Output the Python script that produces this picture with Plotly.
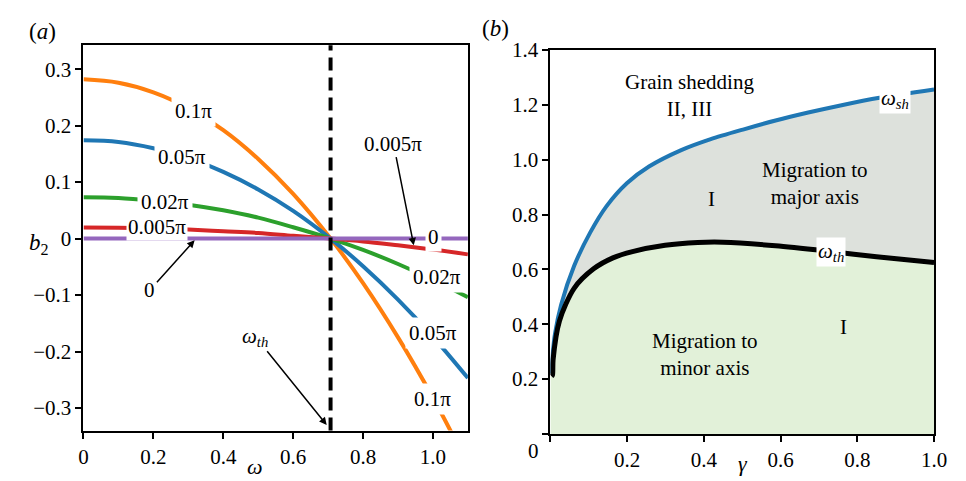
import plotly.graph_objects as go

# ---------------- Panel (a) data ----------------
omega = [0, 0.1, 0.2, 0.3, 0.4, 0.5, 0.6, 0.707, 0.8, 0.9, 1.0, 1.1]
b2_01pi = [0.282, 0.276, 0.259, 0.231, 0.192, 0.141, 0.079, 0, -0.079, -0.175, -0.282, -0.400]
b2_005pi = [0.174, 0.171, 0.160, 0.143, 0.118, 0.087, 0.049, 0, -0.049, -0.108, -0.174, -0.247]
b2_002pi = [0.073, 0.072, 0.067, 0.060, 0.050, 0.037, 0.020, 0, -0.020, -0.045, -0.073, -0.104]
b2_0005pi = [0.0195, 0.019, 0.018, 0.016, 0.013, 0.010, 0.005, 0, -0.005, -0.012, -0.0195, -0.028]
b2_0 = [0, 0, 0, 0, 0, 0, 0, 0, 0, 0, 0, 0]
omega_th = 0.707

a_xticks = [0, 0.2, 0.4, 0.6, 0.8, 1.0]
a_xticktext = ["0", "0.2", "0.4", "0.6", "0.8", "1.0"]
a_yticks = [0.3, 0.2, 0.1, 0, -0.1, -0.2, -0.3]
a_yticktext = ["0.3", "0.2", "0.1", "0", "\u22120.1", "\u22120.2", "\u22120.3"]

# ---------------- Panel (b) data ----------------
gamma_sh = [0.003, 0.006, 0.012, 0.028, 0.062, 0.104, 0.146, 0.2, 0.257, 0.341, 0.418,
            0.502, 0.587, 0.672, 0.756, 0.858, 1.0]
omega_sh = [0.22, 0.29, 0.365, 0.471, 0.613, 0.735, 0.83, 0.915, 0.975, 1.035, 1.075,
            1.11, 1.143, 1.172, 1.198, 1.226, 1.256]
gamma_thr = [0.0, 0.003, 0.0055, 0.007, 0.0236, 0.0618, 0.1126, 0.163, 0.214, 0.299, 0.384,
             0.45, 0.587, 0.731, 0.85, 1.0]
omega_thr = [0.21, 0.21, 0.215, 0.27, 0.412, 0.531, 0.602, 0.642, 0.665, 0.688, 0.698,
             0.699, 0.686, 0.665, 0.646, 0.625]

b_xticks = [0, 0.2, 0.4, 0.6, 0.8, 1.0]
b_xticktext = ["", "0.2", "0.4", "0.6", "0.8", "1.0"]
b_yticks = [0, 0.2, 0.4, 0.6, 0.8, 1.0, 1.2, 1.4]
b_yticktext = ["", "0.2", "0.4", "0.6", "0.8", "1.0", "1.2", "1.4"]

FONT = "Liberation Serif, Times New Roman, serif"
FS = 21
ORANGE, BLUE, GREEN, RED, PURPLE = "#ff7f0e", "#1f77b4", "#2ca02c", "#d62728", "#9467bd"
FILL_GREEN = "#e2f1d9"
FILL_GRAY = "#dde1dc"

fig = go.Figure()

# Panel (a) curves
for yv, col in [(b2_01pi, ORANGE), (b2_005pi, BLUE), (b2_002pi, GREEN), (b2_0005pi, RED), (b2_0, PURPLE)]:
    fig.add_trace(go.Scatter(x=omega, y=yv, mode="lines", line=dict(color=col, width=4, shape="spline"),
                             xaxis="x", yaxis="y", showlegend=False, hoverinfo="skip"))

fig.add_shape(type="line", x0=omega_th, x1=omega_th, y0=0, y1=1, xref="x", yref="y domain",
              line=dict(color="black", width=4, dash="13px,7px"))

# Panel (b) fills
fig.add_trace(go.Scatter(x=gamma_thr, y=omega_thr, mode="lines", line=dict(width=0, shape="spline", smoothing=0.8),
                         fill="tozeroy", fillcolor=FILL_GREEN, xaxis="x2", yaxis="y2",
                         showlegend=False, hoverinfo="skip"))
fig.add_trace(go.Scatter(x=gamma_thr[1:], y=omega_thr[1:], mode="lines", line=dict(width=0, shape="spline", smoothing=0.8),
                         xaxis="x2", yaxis="y2", showlegend=False, hoverinfo="skip"))
fig.add_trace(go.Scatter(x=gamma_sh, y=omega_sh, mode="lines", line=dict(width=0, shape="spline", smoothing=0.8),
                         fill="tonexty", fillcolor=FILL_GRAY, xaxis="x2", yaxis="y2",
                         showlegend=False, hoverinfo="skip"))
# Panel (b) lines
fig.add_trace(go.Scatter(x=gamma_sh, y=omega_sh, mode="lines",
                         line=dict(color=BLUE, width=4, shape="spline", smoothing=0.8),
                         xaxis="x2", yaxis="y2", showlegend=False, hoverinfo="skip"))
fig.add_trace(go.Scatter(x=gamma_thr[1:], y=omega_thr[1:], mode="lines",
                         line=dict(color="black", width=5, shape="spline", smoothing=0.8),
                         xaxis="x2", yaxis="y2", showlegend=False, hoverinfo="skip"))

axis_common = dict(showgrid=False, zeroline=False, showline=True, linecolor="black", linewidth=2,
                   mirror=True, ticks="outside", ticklen=6, tickwidth=1.5, tickcolor="black",
                   tickfont=dict(family=FONT, size=FS, color="black"))

fig.update_layout(
    width=966, height=481, margin=dict(l=0, r=0, t=0, b=0),
    paper_bgcolor="white", plot_bgcolor="white",
    font=dict(family=FONT, size=FS, color="black"),
    xaxis=dict(domain=[0.0828, 0.4883], range=[0, 1.1], tickvals=a_xticks, ticktext=a_xticktext,
               anchor="y", **axis_common),
    yaxis=dict(domain=[0.1075, 0.9293], range=[-0.34, 0.3425], tickvals=a_yticks, ticktext=a_yticktext,
               anchor="x", **axis_common),
    xaxis2=dict(domain=[0.5753, 0.98], range=[0, 1.0], tickvals=b_xticks, ticktext=b_xticktext,
                anchor="y2", **axis_common),
    yaxis2=dict(domain=[0.1004, 0.9189], range=[0, 1.4], tickvals=b_yticks, ticktext=b_yticktext,
                anchor="x2", **axis_common),
)

ann = []
def lab(x, y, text, xref="x", yref="y", bg=None, size=FS, pad=0):
    d = dict(x=x, y=y, xref=xref, yref=yref, text=text, showarrow=False,
             font=dict(family=FONT, size=size, color="black"), xanchor="center", yanchor="middle")
    if bg:
        d["bgcolor"] = bg
        d["borderpad"] = pad
    ann.append(d)

# inline labels panel (a)
lab(0.314, 0.2256, "0.1\u03c0", bg="white", pad=3)
lab(0.281, 0.1439, "0.05\u03c0", bg="white", pad=3)
lab(0.234, 0.0644, "0.02\u03c0", bg="white", pad=3)
lab(0.211, 0.0212, "0.005\u03c0", bg="white", pad=1)
lab(1.002, 0.002, "0", bg="white", pad=2)
lab(1.011, -0.068, "0.02\u03c0", bg="white", pad=3)
lab(1.0, -0.1675, "0.05\u03c0", bg="white", pad=3)
lab(0.999, -0.284, "0.1\u03c0", bg="white", pad=3)

# arrows panel (a)
def arrow(tx, ty, hx, hy, text):
    ann.append(dict(x=hx, y=hy, ax=tx, ay=ty, xref="x", yref="y", axref="x", ayref="y",
                    text=text, showarrow=True, arrowhead=2, arrowsize=1, arrowwidth=1.5,
                    arrowcolor="black", standoff=0, startstandoff=0,
                    font=dict(family=FONT, size=FS, color="black")))
arrow(0.887, 0.168, 0.945, -0.012, "0.005\u03c0")
arrow(0.19, -0.091, 0.318, -0.003, "0")
arrow(0.492, -0.174, 0.696, -0.33, "<i>\u03c9<sub>th</sub></i>")

# panel (b) labels
lab(0.362, 1.234, "Grain shedding<br>II, III", xref="x2", yref="y2")
lab(0.42, 0.856, "I", xref="x2", yref="y2")
lab(0.689, 0.914, "Migration to<br>major axis", xref="x2", yref="y2")
lab(0.899, 1.22, "<i>\u03c9<sub>sh</sub></i>", xref="x2", yref="y2", bg="white", pad=1)
lab(0.731, 0.663, "<i>\u03c9<sub>th</sub></i>", xref="x2", yref="y2", bg="white", pad=1)
lab(0.402, 0.291, "Migration to<br>minor axis", xref="x2", yref="y2")
lab(0.763, 0.391, "I", xref="x2", yref="y2")

# axis titles and panel labels
lab(0.264, 0.03, "<i>\u03c9</i>", xref="paper", yref="paper", size=22)
lab(0.778, 0.0368, "<i>\u03b3</i>", xref="paper", yref="paper", size=22)
lab(0.036, 0.505, "<i>b</i><sub>2</sub>", xref="paper", yref="paper", size=23)
lab(0.0393, 0.958, "(<i>a</i>)", xref="paper", yref="paper", size=23)
lab(0.5176, 0.965, "(<i>b</i>)", xref="paper", yref="paper", size=23)
lab(0.557, 0.0644, "0", xref="paper", yref="paper")

fig.update_layout(annotations=ann)
fig.write_html("out.html")
